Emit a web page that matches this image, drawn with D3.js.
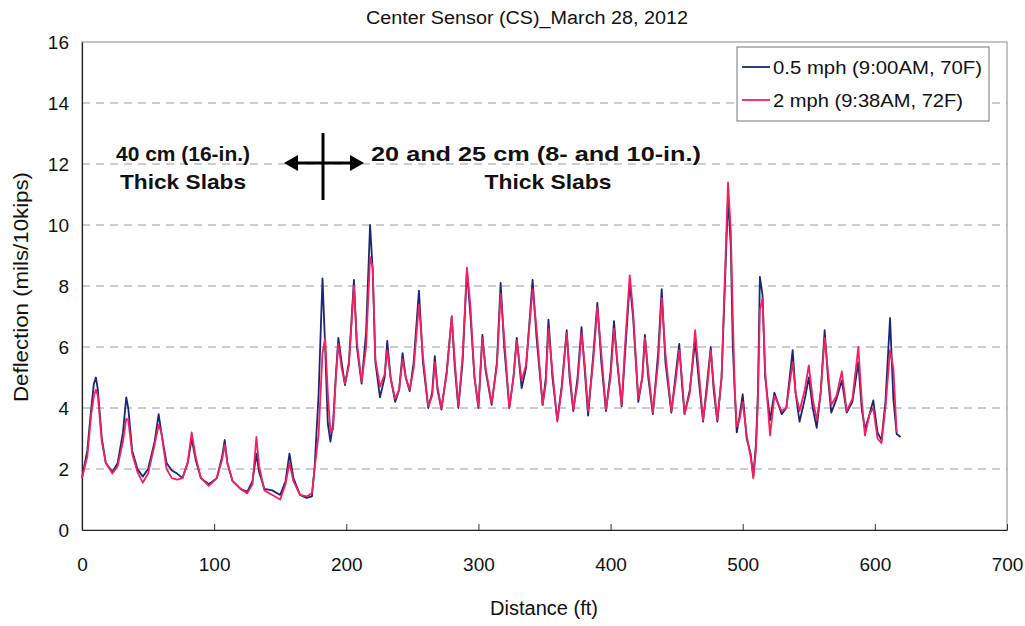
<!DOCTYPE html>
<html><head><meta charset="utf-8">
<script src="https://cdn.jsdelivr.net/npm/d3@7"></script>
<style>
body{margin:0;background:#fff}
svg{display:block}
text{font-family:"Liberation Sans",Arial,sans-serif;fill:#111}
</style>
</head><body>
<svg id="chart" width="1025" height="626"></svg>
<script>
// ---- data ----
const chartTitle = "Center Sensor (CS)_March 28, 2012";
const xTitle = "Distance (ft)";
const yTitle = "Deflection (mils/10kips)";
const seriesNames = ["0.5 mph (9:00AM, 70F)", "2 mph (9:38AM, 72F)"];
const xTicks = [0, 100, 200, 300, 400, 500, 600, 700];
const yTicks = [0, 2, 4, 6, 8, 10, 12, 14, 16];

const distance = [
  0,4,7,9,10.5,12,15,18,23,27,
  31,33.5,35,38,42,46,50,55,58,60,
  64,68,72,76,80,83,86,90,96,102,
  106,108,110,114,120,125,129,132,134,138,
  144,150,154,157,160,165,170,174,176,179,
  182,184,186,188,190,192,194,196.5,199,202,
  205.8,208,211.6,215,218,220,222,225.5,229,231,
  233.5,237,240,242.6,245,248,251,255,258,262,
  265,267,269,272,276,279.8,282,284.8,288,291.3,
  294,297,300,303,305.5,310,314,316.8,319.5,323.4,
  326.5,329,332.7,336,341,344,348.6,351,353,356,
  359.7,363,366.8,369,371.8,375,378,380.5,383,387,
  390,393,396.5,400,402.6,405,408.4,411,414.5,417,
  421,424,426,428.5,432,436,438.7,441.5,446,449,
  452,454,456,460,464,467,470,473,475.8,478,
  480.8,484,486.5,488.9,491,492.5,494,495.5,497.5,500,
  503,506,508,510,511.5,513,515,517,520.7,524,
  529.5,533,537.8,540,543,547,550,553,556,559,
  562,564.5,567,571,575,578.7,583,587.5,590,592.5,
  596,598.8,602,605,608,611.5,614,616.5,619.5
];
const deflection05mph = [
  1.7,2.6,4.0,4.8,5.0,4.6,3.0,2.2,1.9,2.2,
  3.2,4.35,4.0,2.6,2.0,1.75,2.0,2.9,3.8,3.2,
  2.2,1.95,1.85,1.7,2.2,3.0,2.3,1.7,1.5,1.7,
  2.4,2.95,2.2,1.6,1.35,1.25,1.6,2.5,1.9,1.35,
  1.3,1.15,1.6,2.5,1.7,1.15,1.05,1.1,2.05,4.4,
  8.25,6.0,3.5,2.9,3.5,5.0,6.3,5.5,4.75,5.5,
  8.2,6.0,4.8,6.5,10.0,8.5,5.5,4.35,5.0,6.2,
  5.0,4.2,4.6,5.8,5.0,4.55,5.5,7.85,5.5,4.0,
  4.5,5.7,4.6,3.95,5.2,7.0,5.4,4.0,5.5,8.5,
  7.0,5.0,4.0,6.4,5.2,4.1,5.5,8.1,6.0,4.0,
  5.0,6.3,4.65,5.3,8.2,6.3,4.1,5.0,6.9,5.0,
  3.6,4.7,6.55,5.0,3.9,5.0,6.65,5.2,3.75,5.8,
  7.45,5.5,3.9,5.2,6.85,5.5,4.05,5.8,8.1,7.0,
  4.2,5.0,6.4,5.0,3.8,5.8,7.9,5.5,3.85,5.0,
  6.1,4.8,3.8,4.6,6.2,4.8,3.55,4.8,6.0,4.6,
  3.55,5.0,8.0,10.9,9.3,6.0,4.5,3.2,3.7,4.45,
  3.0,2.5,1.75,2.8,4.5,8.3,7.7,5.0,3.6,4.5,
  3.8,4.0,5.9,4.5,3.55,4.3,5.0,4.0,3.35,4.5,
  6.55,5.0,3.85,4.3,4.9,3.85,4.2,5.5,4.0,3.3,
  3.8,4.25,3.2,2.95,4.2,6.95,4.3,3.15,3.05
];
const deflection2mph = [
  1.7,2.4,3.8,4.4,4.6,4.4,2.9,2.2,1.85,2.1,
  2.9,3.65,3.6,2.5,1.9,1.55,1.85,2.8,3.45,3.2,
  2.0,1.7,1.65,1.7,2.2,3.2,2.4,1.7,1.45,1.7,
  2.3,2.8,2.2,1.6,1.35,1.2,1.5,3.05,2.1,1.3,
  1.15,1.0,1.5,2.2,1.6,1.15,1.1,1.2,2.0,3.1,
  5.8,6.3,4.5,3.2,3.3,4.9,6.1,5.3,4.8,5.4,
  8.0,6.2,4.85,6.0,8.95,8.6,5.6,4.7,5.1,5.9,
  5.0,4.3,4.6,5.6,5.0,4.6,5.3,7.4,5.7,4.05,
  4.4,5.5,4.7,4.0,5.1,7.0,5.6,4.05,5.7,8.6,
  7.3,5.0,4.05,6.3,5.3,4.15,5.4,7.75,6.3,4.0,
  5.0,6.2,4.9,5.4,7.9,6.6,4.1,4.8,6.6,5.2,
  3.55,4.6,6.45,5.2,3.95,4.8,6.45,5.4,3.9,5.6,
  7.3,5.8,3.95,5.0,6.6,5.6,4.1,6.1,8.35,7.2,
  4.3,5.0,6.3,5.2,3.85,5.5,7.6,5.8,3.9,4.8,
  5.9,5.0,3.8,4.5,6.55,5.1,3.6,4.6,5.9,4.8,
  3.6,5.0,8.3,11.4,9.8,7.0,4.6,3.4,3.6,4.2,
  3.1,2.4,1.7,2.6,4.2,7.2,7.6,5.2,3.1,4.4,
  3.9,4.0,5.5,4.5,3.9,4.6,5.4,4.3,3.6,4.5,
  6.3,5.2,4.1,4.4,5.2,3.9,4.3,6.0,4.3,3.1,
  3.8,4.0,3.0,2.85,4.0,5.9,5.3,3.2,null
];
const leftNote = ["40 cm (16-in.)", "Thick Slabs"];
const rightNote = ["20 and 25 cm (8- and 10-in.)", "Thick Slabs"];
const colors = ["#1d2672", "#f2215f"];

// ---- layout ----
const FONT = '"Liberation Sans",Arial,sans-serif';
const svg = d3.select("#chart");
const L = 82, R = 1007, T = 42, B = 530;
const x = d3.scaleLinear().domain([0, 700]).range([L, R]);
const y = d3.scaleLinear().domain([0, 16]).range([B, T]);

// grid
svg.append("g").selectAll("line").data(yTicks.filter(v => v > 0 && v < 16)).join("line")
  .attr("x1", L).attr("x2", R).attr("y1", d => y(d)).attr("y2", d => y(d))
  .attr("stroke", "#9a9a9a").attr("stroke-width", 1).attr("stroke-dasharray", "8,6");

// frame
svg.append("rect").attr("x", L).attr("y", T).attr("width", R - L).attr("height", B - T)
  .attr("fill", "none").attr("stroke", "#8a8a8a").attr("stroke-width", 1);

// axes
const xAxis = d3.axisBottom(x).tickValues(xTicks).tickSizeInner(-6).tickSizeOuter(0).tickPadding(28);
const gx = svg.append("g").attr("transform", `translate(0,${B})`).call(xAxis);
gx.select(".domain").attr("stroke", "#222").attr("stroke-width", 1.2);
gx.selectAll(".tick line").attr("stroke", "#333");
gx.selectAll("text").attr("font-size", 19).attr("fill", "#111").style("font-family", FONT);

const yAxis = d3.axisLeft(y).tickValues(yTicks).tickSize(0).tickPadding(13);
const gy = svg.append("g").attr("transform", `translate(${L},0)`).call(yAxis);
gy.select(".domain").attr("stroke", "#222").attr("stroke-width", 1.2);
gy.selectAll("text").attr("font-size", 19).attr("fill", "#111").style("font-family", FONT);

// lines
const seriesData = [deflection05mph, deflection2mph];
const line = d3.line()
  .defined(d => d[1] != null)
  .x(d => x(d[0])).y(d => y(d[1]));
seriesData.forEach((vals, i) => {
  svg.append("path")
    .datum(distance.map((d, j) => [d, vals[j]]))
    .attr("fill", "none").attr("stroke", colors[i])
    .attr("stroke-width", 1.8).attr("stroke-linejoin", "round")
    .attr("d", line);
});

// title & axis titles
svg.append("text").attr("x", 527).attr("y", 24).attr("text-anchor", "middle")
  .attr("font-size", 18).attr("textLength", 322).attr("lengthAdjust", "spacingAndGlyphs")
  .text(chartTitle);
svg.append("text").attr("x", 544).attr("y", 615).attr("text-anchor", "middle")
  .attr("font-size", 20).attr("textLength", 108).attr("lengthAdjust", "spacingAndGlyphs")
  .text(xTitle);
svg.append("text").attr("transform", "translate(28,287) rotate(-90)").attr("text-anchor", "middle")
  .attr("font-size", 20).attr("textLength", 230).attr("lengthAdjust", "spacingAndGlyphs")
  .text(yTitle);

// legend
const lg = svg.append("g");
lg.append("rect").attr("x", 737).attr("y", 47).attr("width", 252).attr("height", 74)
  .attr("fill", "#fff").attr("stroke", "#777").attr("stroke-width", 1);
const legendWidths = [209, 190];
seriesNames.forEach((n, i) => {
  const yy = 67 + i * 33;
  lg.append("line").attr("x1", 742).attr("x2", 770).attr("y1", yy).attr("y2", yy)
    .attr("stroke", colors[i]).attr("stroke-width", 1.8);
  lg.append("text").attr("x", 773).attr("y", yy + 7).attr("font-size", 19)
    .attr("textLength", legendWidths[i]).attr("lengthAdjust", "spacingAndGlyphs").text(n);
});

// annotations
const leftW = [134, 126], rightW = [330, 127];
leftNote.forEach((t, i) => svg.append("text").attr("x", 183).attr("y", 161 + i * 28)
  .attr("text-anchor", "middle").attr("font-size", 21).attr("font-weight", "bold")
  .attr("textLength", leftW[i]).attr("lengthAdjust", "spacingAndGlyphs").text(t));
rightNote.forEach((t, i) => svg.append("text").attr("x", 536 + (i ? 12 : 0)).attr("y", 161 + i * 28)
  .attr("text-anchor", "middle").attr("font-size", 21).attr("font-weight", "bold")
  .attr("textLength", rightW[i]).attr("lengthAdjust", "spacingAndGlyphs").text(t));

// cross-arrow
const ax = svg.append("g").attr("stroke", "#000").attr("stroke-width", 3);
ax.append("line").attr("x1", 294).attr("x2", 354).attr("y1", 163).attr("y2", 163);
ax.append("line").attr("x1", 323).attr("x2", 323).attr("y1", 133).attr("y2", 200);
svg.append("path").attr("d", "M284,163 L298,155 L298,171 Z").attr("fill", "#000");
svg.append("path").attr("d", "M364,163 L350,155 L350,171 Z").attr("fill", "#000");
</script>
</body></html>
